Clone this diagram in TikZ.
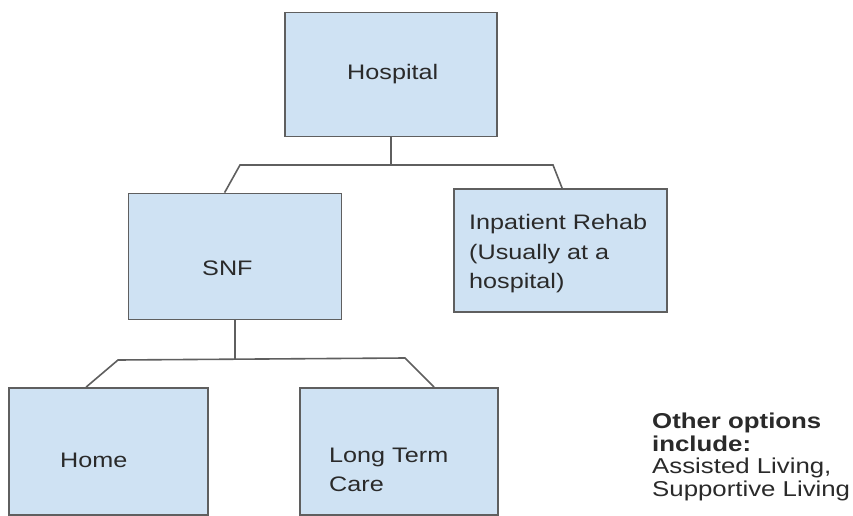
\documentclass[tikz,border=0pt]{standalone}
\usepackage{fontspec}
\setmainfont[FakeStretch=1.2]{Liberation Sans}
\usetikzlibrary{calc}
\definecolor{boxfill}{HTML}{CFE2F3}
\definecolor{boxline}{HTML}{5F5F5F}
\definecolor{txt}{HTML}{2A2A2A}
\tikzset{
  box/.style={draw=boxline, line width=1.8pt, fill=boxfill, rectangle, inner sep=0pt},
  conn/.style={draw=boxline, line width=1.6pt},
  lbl/.style={text=txt, inner sep=0pt, font=\fontsize{21}{29.5}\selectfont, align=left},
  note/.style={text=txt, inner sep=0pt, font=\fontsize{21.5}{22.5}\selectfont, align=left}
}
\begin{document}
\begin{tikzpicture}[x=1pt,y=-1pt]
\useasboundingbox[fill=white] (0,0) rectangle (853,516);
% boxes
\node[box, minimum width=212pt, minimum height=124pt] (hosp) at (391,74.5) {};
\node[box, minimum width=213pt, minimum height=126pt] (snf) at (235,256.5) {};
\node[box, minimum width=213pt, minimum height=123pt] (rehab) at (560.5,250.5) {};
\node[box, minimum width=199pt, minimum height=127pt] (home) at (108.5,451.5) {};
\node[box, minimum width=198pt, minimum height=127pt] (ltc) at (399,451.5) {};
% texts
\node[lbl, anchor=base west] (thosp) at (347,80) {Hospital};
\node[lbl, anchor=base west] (tsnf) at (202,275) {SNF};
\node[lbl, anchor=north west] (trehab) at (469,214.5) {Inpatient Rehab\\(Usually at a\\hospital)};
\node[lbl, anchor=base west] (thome) at (60,467) {Home};
\node[lbl, anchor=north west] (tltc) at (329,447.5) {Long Term\\Care};
\node[note, anchor=north west] (tnote) at (652,413) {\textbf{Other options}\\\textbf{include:}\\Assisted Living,\\Supportive Living};
% connectors from hospital
\coordinate (j1) at ($(hosp.south)+(0,28)$);
\coordinate (j1l) at (240,165);
\coordinate (j1r) at (553,165);
\draw[conn] (hosp.south) -- (j1);
\draw[conn] ([xshift=97pt]snf.north west) -- (j1l) -- (j1r) -- ([xshift=109pt]rehab.north west);
% connectors from SNF
\coordinate (j2) at ($(snf.south)+(0,40)$);
\coordinate (j2l) at (118,360);
\coordinate (j2r) at (405,358);
\draw[conn] (snf.south) -- (j2);
\draw[conn] ([xshift=78pt]home.north west) -- (j2l) -- (j2r) -- ([xshift=135pt]ltc.north west);
\end{tikzpicture}
\end{document}
